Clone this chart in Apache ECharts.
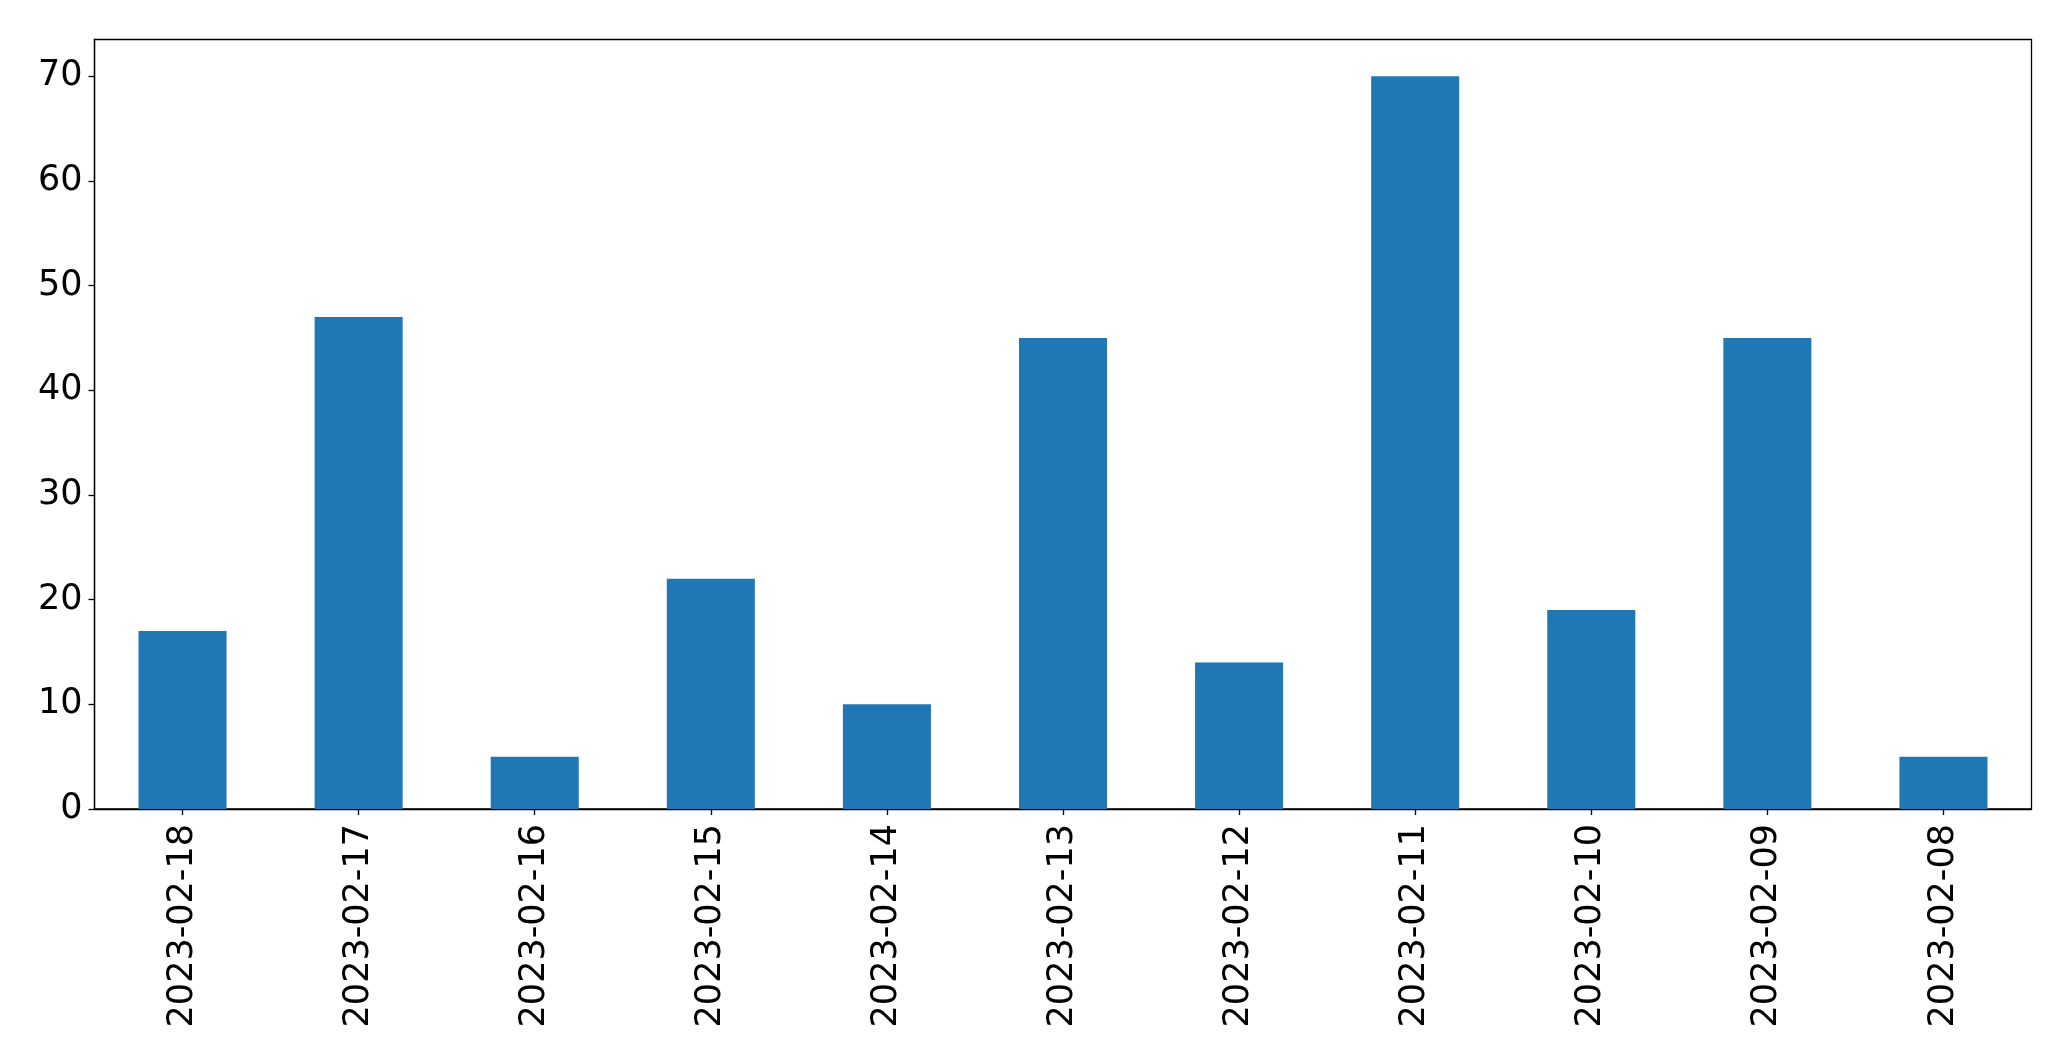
<!DOCTYPE html>
<html>
<head>
<meta charset="utf-8">
<script src="https://cdn.jsdelivr.net/npm/echarts@6/dist/echarts.min.js"></script>
<style>html,body{margin:0;padding:0;background:#fff;}#c{width:2071px;height:1061px;}</style>
</head>
<body>
<div id="c"></div>
<script>
const categories = ["2023-02-18","2023-02-17","2023-02-16","2023-02-15","2023-02-14","2023-02-13","2023-02-12","2023-02-11","2023-02-10","2023-02-09","2023-02-08"];
const values = [17, 47, 5, 22, 10, 45, 14, 70, 19, 45, 5];
const yTicks = [0, 10, 20, 30, 40, 50, 60, 70];

const chart = echarts.init(document.getElementById('c'), null, {renderer: 'canvas'});
const font = 'DejaVu Sans';
chart.setOption({
  backgroundColor: '#fff',
  animation: false,
  grid: {left: 94.5, right: 39.5, top: 39.5, bottom: 252, show: true, borderColor: '#000', borderWidth: 1.3, backgroundColor: 'transparent'},
  xAxis: {
    type: 'category',
    data: categories,
    axisLine: {show: true, lineStyle: {color: '#000', width: 1.3}},
    axisTick: {show: true, alignWithLabel: true, length: 6, lineStyle: {color: '#000', width: 1.3}},
    axisLabel: {rotate: 90, fontSize: 35, fontFamily: font, color: '#000', margin: 15, interval: 0},
    splitLine: {show: false}
  },
  yAxis: {
    type: 'value',
    min: 0,
    max: 73.5,
    interval: 10,
    axisLine: {show: true, lineStyle: {color: '#000', width: 1.3}},
    axisTick: {show: true, length: 6, customValues: yTicks, lineStyle: {color: '#000', width: 1.3}},
    axisLabel: {fontSize: 35, fontFamily: font, color: '#000', margin: 12, customValues: yTicks,
      formatter: v => yTicks.includes(v) ? String(v) : ''},
    splitLine: {show: false}
  },
  series: [{
    type: 'bar',
    data: values,
    barWidth: '50%',
    itemStyle: {color: '#1f77b4'}
  }]
});
</script>
</body>
</html>
